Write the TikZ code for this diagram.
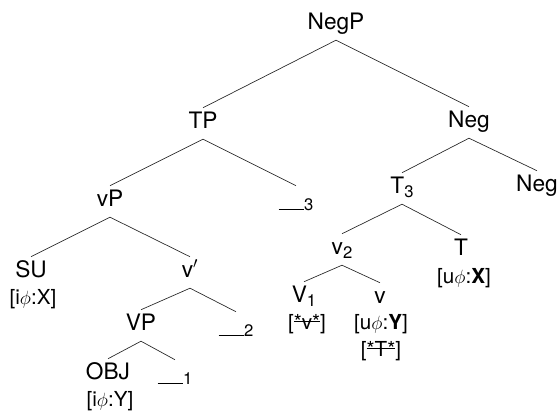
\documentclass[tikz,border=0pt]{standalone}
\usepackage{fontspec}
\setmainfont{TeX Gyre Heros}
\usepackage{amsmath}

\newcommand{\lowidx}[1]{\raisebox{-3pt}{\fontsize{12.5}{13}\selectfont #1}}
\newcommand{\tracemark}[1]{\rule{19pt}{0.5pt}{\fontsize{12.5}{13}\selectfont #1}}
\newcommand{\struck}[1]{\setbox0=\hbox{#1}\rlap{\rule[0.36em]{\wd0}{0.6pt}}\box0}

\begin{document}
\begin{tikzpicture}[x=0.75pt, y=-0.75pt,
        cat/.style={font=\fontsize{17}{20}\selectfont, inner sep=0pt, text height=15pt, text depth=8.2pt, anchor=base},
        tr/.style={font=\fontsize{17}{20}\selectfont, inner sep=0pt, text height=18pt, text depth=8.2pt, anchor=base},
        feat/.style={font=\fontsize{15.5}{18}\selectfont, inner sep=0pt, anchor=base},
        branch/.style={line width=0.5pt, black!85}]
        \useasboundingbox (0,0) rectangle (558,414);

        % Categories
        \node[cat] (negp) at (336,29) {NegP};
        \node[cat] (tp) at (203,128) {TP};
        \node[cat] (negbar) at (469,127) {Neg};
        \node[cat] (vp) at (110,206) {vP};
        \node[tr] (trthree) at (296,210) {\tracemark{3}};
        \node[cat] (tthree) at (402,193) {T\lowidx{3}};
        \node[cat] (neghead) at (537,191) {Neg};
        \node[cat] (su) at (31,277) {SU};
        \node[cat] (vbar) at (190,277) {v$'$};
        \node[cat] (vtwo) at (342,254) {v\lowidx{2}};
        \node[cat] (thead) at (461,255) {T};
        \node[cat] (vpp) at (141,330) {VP};
        \node[tr] (trtwo) at (236,336) {\tracemark{2}};
        \node[cat] (vone) at (304,302) {V\lowidx{1}};
        \node[cat] (vhead) at (380,303) {v};
        \node[cat] (obj) at (108,379) {OBJ};
        \node[tr] (trone) at (175,384) {\tracemark{1}};

        % Features
        \node[feat] (fsu) at (33,304) {[i$\phi$:X]};
        \node[feat] (fobj) at (110,406) {[i$\phi$:Y]};
        \node[feat] (fthead) at (464,283) {[u$\phi$:\textbf{X}]};
        \node[feat] (fvone) at (307,329) {[\struck{*v*}]};
        \node[feat] (fvhead) at (381,329) {[u$\phi$:\textbf{Y}]};
        \node[feat] (fvheadb) at (381,356) {[\struck{*T*}]};

        % Draw branches
        \draw[branch] (tp.north) -- (negp.south) -- (negbar.north);
        \draw[branch] (vp.north) -- (tp.south) -- (trthree.north);
        \draw[branch] (su.north) -- (vp.south) -- (vbar.north);
        \draw[branch] (vpp.north) -- (vbar.south) -- (trtwo.north);
        \draw[branch] (obj.north) -- (vpp.south) -- (trone.north);
        \draw[branch] (tthree.north) -- (negbar.south) -- (neghead.north);
        \draw[branch] (vtwo.north) -- (tthree.south) -- (thead.north);
        \draw[branch] (vone.north) -- (vtwo.south) -- (vhead.north);
    \end{tikzpicture}
\end{document}
